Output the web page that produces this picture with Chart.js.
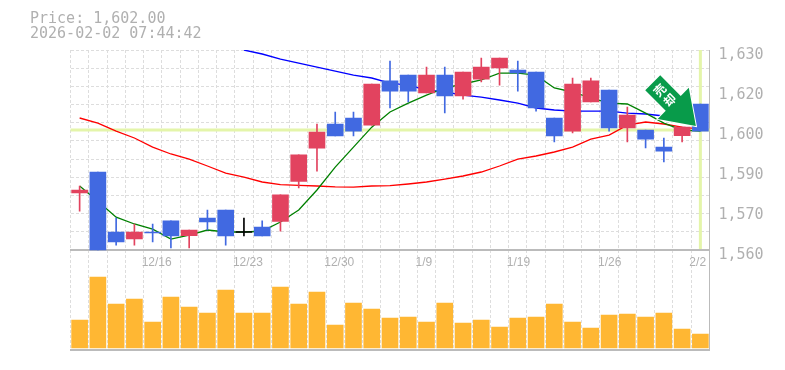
<!DOCTYPE html>
<html>
<head>
<meta charset="utf-8">
<style>
  html, body { margin: 0; padding: 0; background: #fff; }
  #wrap { position: relative; width: 785px; height: 370px; }
  #info { position: absolute; left: 30px; top: 11px; font: 15px/15px "DejaVu Sans Mono", monospace; color: #b0b0b0; white-space: pre; }
</style>
<script src="https://cdn.jsdelivr.net/npm/chart.js@4"></script>
</head>
<body>
<div id="wrap">
  <div id="info">Price: 1,602.00
2026-02-02 07:44:42</div>
  <canvas id="myChart" width="785" height="370"></canvas>
</div>
<script>
const dateLabels = ['', '', '', '', '12/16', '', '', '', '', '12/23', '', '', '', '', '12/30', '', '', '', '', '1/9', '', '', '', '', '1/19', '', '', '', '', '1/26', '', '', '', '', '2/2'];
const priceTicks = ['1,630', '1,620', '1,600', '1,590', '1,570', '1,560'];

const opens = [1580, 1587.3, 1566.3, 1563.9, 1566.3, 1570.2, 1565, 1571.2, 1574, 1566.3, 1568, 1570, 1584, 1595.6, 1604.1, 1606.2, 1603.7, 1619.2, 1621.2, 1615, 1621.2, 1613.9, 1619.8, 1623.7, 1623, 1622.3, 1606.2, 1601.6, 1611.8, 1616, 1602.7, 1602, 1596, 1600, 1611.1];
const closes = [1581, 1560, 1562.8, 1566.3, 1566, 1564.9, 1567, 1569.8, 1564.9, 1566.3, 1564.9, 1579.3, 1593.3, 1601.3, 1599.9, 1601.6, 1618.1, 1615.6, 1615.6, 1621.2, 1613.9, 1622.3, 1624, 1627.2, 1622, 1609.7, 1599.9, 1618.1, 1619.2, 1602.7, 1607.2, 1598.8, 1594.6, 1603, 1601.6];
const highs = [1582.4, 1587.3, 1571.2, 1569.1, 1569.1, 1570.2, 1567, 1574, 1574, 1571.2, 1570.2, 1579.3, 1593.3, 1604.1, 1608.3, 1608.3, 1618.1, 1626.1, 1621.2, 1624, 1624, 1622.3, 1627.2, 1627.2, 1626.1, 1622.3, 1606.2, 1620.2, 1620.2, 1616, 1610, 1602, 1599.2, 1603, 1611.1];
const lows = [1573.6, 1560, 1561.7, 1561.7, 1562.8, 1560.7, 1560.7, 1567, 1561.7, 1564.9, 1564.9, 1566.6, 1581.7, 1587.6, 1599.9, 1599.9, 1603.7, 1609.7, 1611.8, 1615, 1608, 1612.8, 1618.8, 1617.7, 1615.6, 1608.6, 1597.8, 1601, 1611.8, 1601.6, 1597.8, 1595.7, 1590.8, 1597.8, 1601.6];

const maShort = [1582.4, 1577.1, 1571.5, 1569.1, 1567.3, 1563.8, 1565.2, 1567, 1566.3, 1566.3, 1566.6, 1569.8, 1574, 1581, 1589, 1596, 1603, 1608.3, 1611.4, 1614.2, 1616.7, 1618.1, 1619.5, 1621.9, 1621.9, 1621.2, 1616.7, 1615.3, 1613.2, 1611.4, 1611.1, 1607.9, 1604.4, 1602, 1601.6];
const maMid = [null, null, null, null, null, null, null, null, null, 1630, 1628.6, 1626.8, 1625.4, 1624, 1622.6, 1621.2, 1620.2, 1618.4, 1617.7, 1616, 1615.3, 1614.2, 1613.5, 1612.5, 1611.4, 1609.7, 1609, 1608.6, 1608.6, 1608.6, 1607.9, 1607.6, 1606.9, 1606.5, 1606.2];
const maLong = [1606.2, 1604.4, 1601.6, 1599.2, 1596, 1593.6, 1591.8, 1589.4, 1586.9, 1585.5, 1583.8, 1582.9, 1582.6, 1582.4, 1582.1, 1582, 1582.4, 1582.5, 1583.1, 1583.8, 1584.8, 1585.9, 1587.3, 1589.4, 1591.8, 1592.9, 1594.3, 1596, 1598.8, 1600.2, 1603.7, 1604.8, 1604.1, 1603, 1602.3];

const volumes = [28, 71, 44, 49, 26, 51, 41, 35, 58, 35, 35, 61, 44, 56, 23, 45, 39, 30, 31, 26, 45, 25, 28, 21, 30, 31, 44, 26, 20, 33, 34, 31, 35, 19, 14];

const lastPrice = 1602;
const lastIndex = 34;

const UP = '#e2435f', DOWN = '#4169e1', FLAT = '#000000';
const candleColors = opens.map((o, i) => closes[i] > o ? UP : closes[i] < o ? DOWN : FLAT);
const wicks = lows.map((l, i) => [l, highs[i]]);
const bodies = opens.map((o, i) => o === closes[i] ? [o - 0.15, o + 0.15] : [o, closes[i]]);

const priceMin = 1560, priceMax = 1630;
const pxPerUnit = 200 / (priceMax - priceMin);
// price scale runs on down through the volume panel so both share one chart area
const priceBottom = priceMin - 100 / pxPerUnit;

function maLine(label, color, data) {
  return { type: 'line', label, data, yAxisID: 'y', borderColor: color, borderWidth: 1.3, pointRadius: 0, tension: 0, order: 7, spanGaps: false };
}

// yellow cross at the last price and last bar, under the candles
const crossHair = {
  id: 'crossHair',
  beforeDatasetsDraw(chart) {
    const { ctx, chartArea, scales } = chart;
    const y = scales.y.getPixelForValue(lastPrice);
    const x = scales.x.getPixelForValue(lastIndex);
    const bottom = scales.y.getPixelForValue(priceMin);
    ctx.save();
    ctx.strokeStyle = '#e4f5aa';
    ctx.lineWidth = 3;
    ctx.beginPath();
    ctx.moveTo(chartArea.left, y);
    ctx.lineTo(chartArea.right, y);
    ctx.moveTo(x, chartArea.top);
    ctx.lineTo(x, bottom - 1);
    ctx.stroke();
    ctx.restore();
  }
};

// green sell arrow pointing at the last bars
const sellArrow = {
  id: 'sellArrow',
  afterDraw(chart) {
    const { ctx, scales } = chart;
    const tipX = scales.x.getPixelForValue(lastIndex) - 4.5;
    const tipY = scales.y.getPixelForValue(lastPrice) - 4;
    ctx.save();
    ctx.translate(tipX, tipY);
    ctx.rotate(-Math.PI / 4);
    ctx.beginPath();
    ctx.moveTo(0, 0);
    ctx.lineTo(-22, -32);
    ctx.lineTo(-10.6, -32);
    ctx.lineTo(-10.6, -61);
    ctx.lineTo(10.6, -61);
    ctx.lineTo(10.6, -32);
    ctx.lineTo(22, -32);
    ctx.closePath();
    ctx.lineWidth = 2;
    ctx.strokeStyle = '#ffffff';
    ctx.stroke();
    ctx.fillStyle = '#089b4a';
    ctx.fill();
    ctx.fillStyle = '#ffffff';
    ctx.font = 'bold 12px "Noto Sans CJK JP"';
    ctx.textAlign = 'center';
    ctx.textBaseline = 'middle';
    ctx.fillText('売', 0, -51);
    ctx.fillText('却', 0, -37);
    ctx.restore();
  }
};

new Chart(document.getElementById('myChart'), {
  data: {
    labels: dateLabels,
    datasets: [
      maLine('MA short', '#008000', maShort),
      maLine('MA mid', '#0000ff', maMid),
      maLine('MA long', '#ff0000', maLong),
      { type: 'bar', label: 'body', data: bodies, yAxisID: 'y', backgroundColor: candleColors, barThickness: 16, grouped: false, order: 4 },
      { type: 'bar', label: 'wick', data: wicks, yAxisID: 'y', backgroundColor: candleColors, barThickness: 1, grouped: false, order: 5 },
      { type: 'bar', label: 'volume', data: volumes, yAxisID: 'yVol', backgroundColor: '#ffb733', barThickness: 16, grouped: false, order: 6 }
    ]
  },
  options: {
    responsive: false,
    animation: false,
    layout: { padding: { top: 50, bottom: 20 } },
    plugins: { legend: { display: false }, tooltip: { enabled: false } },
    scales: {
      x: {
        position: { y: priceMin },
        grid: { color: '#dddddd', lineWidth: 1, drawTicks: false },
        border: { color: '#bbbbbb', width: 2, dash: [3, 2] },
        ticks: { color: '#b0b0b0', font: { family: 'Liberation Sans', size: 12 }, align: 'start', labelOffset: -11, autoSkip: false, maxRotation: 0, padding: 5 }
      },
      xBottom: {
        position: 'bottom',
        labels: dateLabels,
        type: 'category',
        afterFit(s) { s.height = 0; },
        grid: { display: false },
        border: { color: '#bbbbbb', width: 2 },
        ticks: { display: false }
      },
      y: {
        position: 'right',
        min: priceBottom,
        max: priceMax,
        afterFit(s) { s.width = 75.5; },
        afterBuildTicks(s) { s.ticks = priceTicks.map((t, i) => ({ value: priceMax - i * 14, label: t })); },
        grid: { display: false },
        border: { color: '#bbbbbb', width: 1 },
        ticks: { color: '#b0b0b0', font: { family: 'DejaVu Sans Mono', size: 15 }, padding: 1, labelOffset: 5, callback(v, i) { return priceTicks[i]; } }
      },
      yGrid: {
        position: 'left',
        min: priceBottom,
        max: priceMax,
        afterFit(s) { s.width = 70.5; },
        afterBuildTicks(s) {
          const step = (priceMax - priceMin) / 11;
          s.ticks = Array.from({ length: 12 }, (_, i) => ({ value: priceMin + i * step }));
        },
        grid: { color: '#dddddd', drawTicks: false },
        border: { display: false, dash: [3, 2] },
        ticks: { display: false }
      },
      yVol: {
        display: false,
        min: -2,
        max: 298
      }
    }
  },
  plugins: [crossHair, sellArrow]
});
</script>
</body>
</html>
